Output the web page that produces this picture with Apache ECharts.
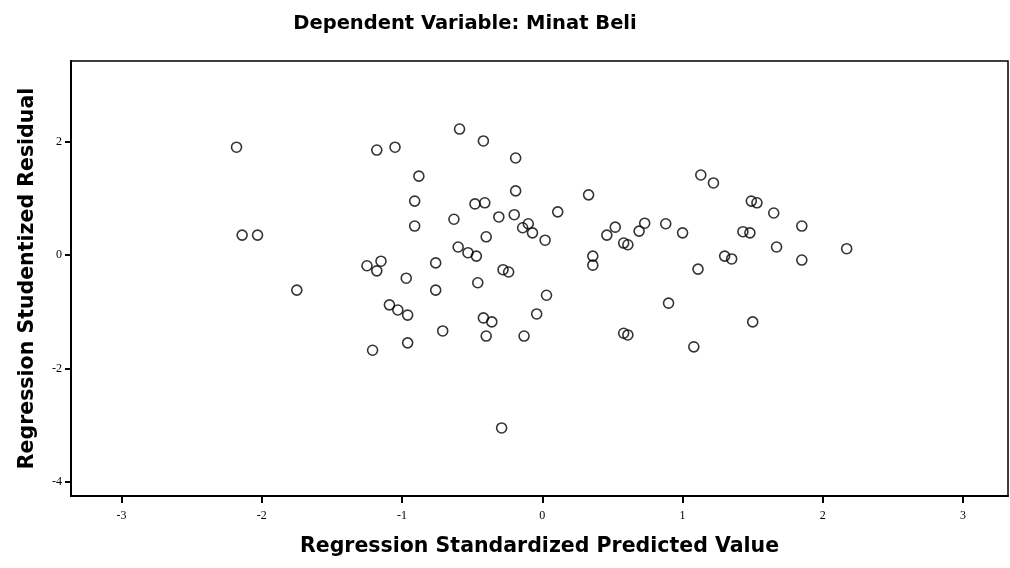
<!DOCTYPE html>
<html>
<head>
<meta charset="utf-8">
<script src="https://cdn.jsdelivr.net/npm/echarts@6/dist/echarts.min.js"></script>
<style>
  html, body { margin: 0; padding: 0; background: #fff; }
  #chart { width: 1010px; height: 568px; }
</style>
</head>
<body>
<div id="chart"></div>
<script>
const predicted = [
  -2.18, -2.14, -2.03, -1.75, -1.25, -1.15, -1.18, -1.18, -1.05, -1.21,
  -1.09, -1.03, -0.96, -0.97, -0.96, -0.88, -0.91, -0.91, -0.76, -0.76,
  -0.71, -0.63, -0.60, -0.59, -0.53, -0.47, -0.48, -0.46, -0.42, -0.41,
  -0.40, -0.42, -0.40, -0.36, -0.31, -0.28, -0.24, -0.29, -0.19, -0.19,
  -0.20, -0.14, -0.10, -0.07, -0.13, -0.04, 0.03, 0.02, 0.11, 0.33,
  0.36, 0.36, 0.46, 0.52, 0.58, 0.61, 0.58, 0.61, 0.69, 0.73,
  0.88, 0.90, 1.00, 1.08, 1.11, 1.13, 1.22, 1.30, 1.35, 1.43,
  1.48, 1.49, 1.53, 1.50, 1.65, 1.67, 1.85, 1.85, 2.17
];
const residual = [
  1.90, 0.35, 0.35, -0.62, -0.19, -0.11, -0.28, 1.85, 1.90, -1.68,
  -0.88, -0.97, -1.06, -0.41, -1.55, 1.39, 0.95, 0.51, -0.14, -0.62,
  -1.34, 0.63, 0.14, 2.22, 0.04, -0.02, 0.90, -0.49, 2.01, 0.92,
  0.32, -1.11, -1.43, -1.18, 0.67, -0.26, -0.30, -3.05, 1.71, 1.13,
  0.71, 0.48, 0.55, 0.39, -1.43, -1.04, -0.71, 0.26, 0.76, 1.06,
  -0.02, -0.18, 0.35, 0.49, 0.21, 0.18, -1.38, -1.41, 0.42, 0.56,
  0.55, -0.85, 0.39, -1.62, -0.25, 1.41, 1.27, -0.02, -0.07, 0.41,
  0.39, 0.95, 0.92, -1.18, 0.74, 0.14, 0.51, -0.09, 0.11
];
const xTicks = [-3, -2, -1, 0, 1, 2, 3];
const yTicks = [-4, -2, 0, 2];

const points = predicted.map((x, i) => [x, residual[i]]);

const chart = echarts.init(document.getElementById('chart'));
const tickFont = { fontFamily: 'Liberation Serif', fontSize: 12, color: '#000' };

chart.setOption({
  animation: false,
  backgroundColor: '#fff',
  title: {
    text: 'Dependent Variable: Minat Beli',
    left: 460,
    top: 9,
    textAlign: 'center',
    textStyle: { fontFamily: 'DejaVu Sans', fontWeight: 'bold', fontSize: 19.5, color: '#000' }
  },
  grid: {
    left: 71, right: 2, top: 61, bottom: 72,
    show: true, borderColor: '#000', borderWidth: 1.5, backgroundColor: '#fff'
  },
  xAxis: {
    type: 'value',
    min: -3.36, max: 3.32,
    name: 'Regression Standardized Predicted Value',
    nameLocation: 'middle',
    nameGap: 40,
    nameTextStyle: { fontFamily: 'DejaVu Sans', fontWeight: 'bold', fontSize: 20.5, color: '#000' },
    axisLine: { onZero: false, lineStyle: { color: '#000', width: 2 } },
    axisTick: { show: true, customValues: xTicks, length: 7, lineStyle: { color: '#000', width: 2 } },
    axisLabel: { customValues: xTicks, margin: 14, ...tickFont },
    splitLine: { show: false }
  },
  yAxis: {
    type: 'value',
    min: -4.25, max: 3.42,
    name: 'Regression Studentized Residual',
    nameLocation: 'middle',
    nameGap: 33,
    nameTextStyle: { fontFamily: 'DejaVu Sans', fontWeight: 'bold', fontSize: 20.5, color: '#000' },
    axisLine: { onZero: false, lineStyle: { color: '#000', width: 2 } },
    axisTick: { show: true, customValues: yTicks, length: 6, lineStyle: { color: '#000', width: 2 } },
    axisLabel: { customValues: yTicks, margin: 9, ...tickFont },
    splitLine: { show: false }
  },
  series: [{
    type: 'scatter',
    data: points,
    symbol: 'circle',
    symbolSize: 10,
    itemStyle: { color: 'rgba(255,255,255,0)', borderColor: '#000', borderWidth: 1.6 }
  }]
});
</script>
</body>
</html>
